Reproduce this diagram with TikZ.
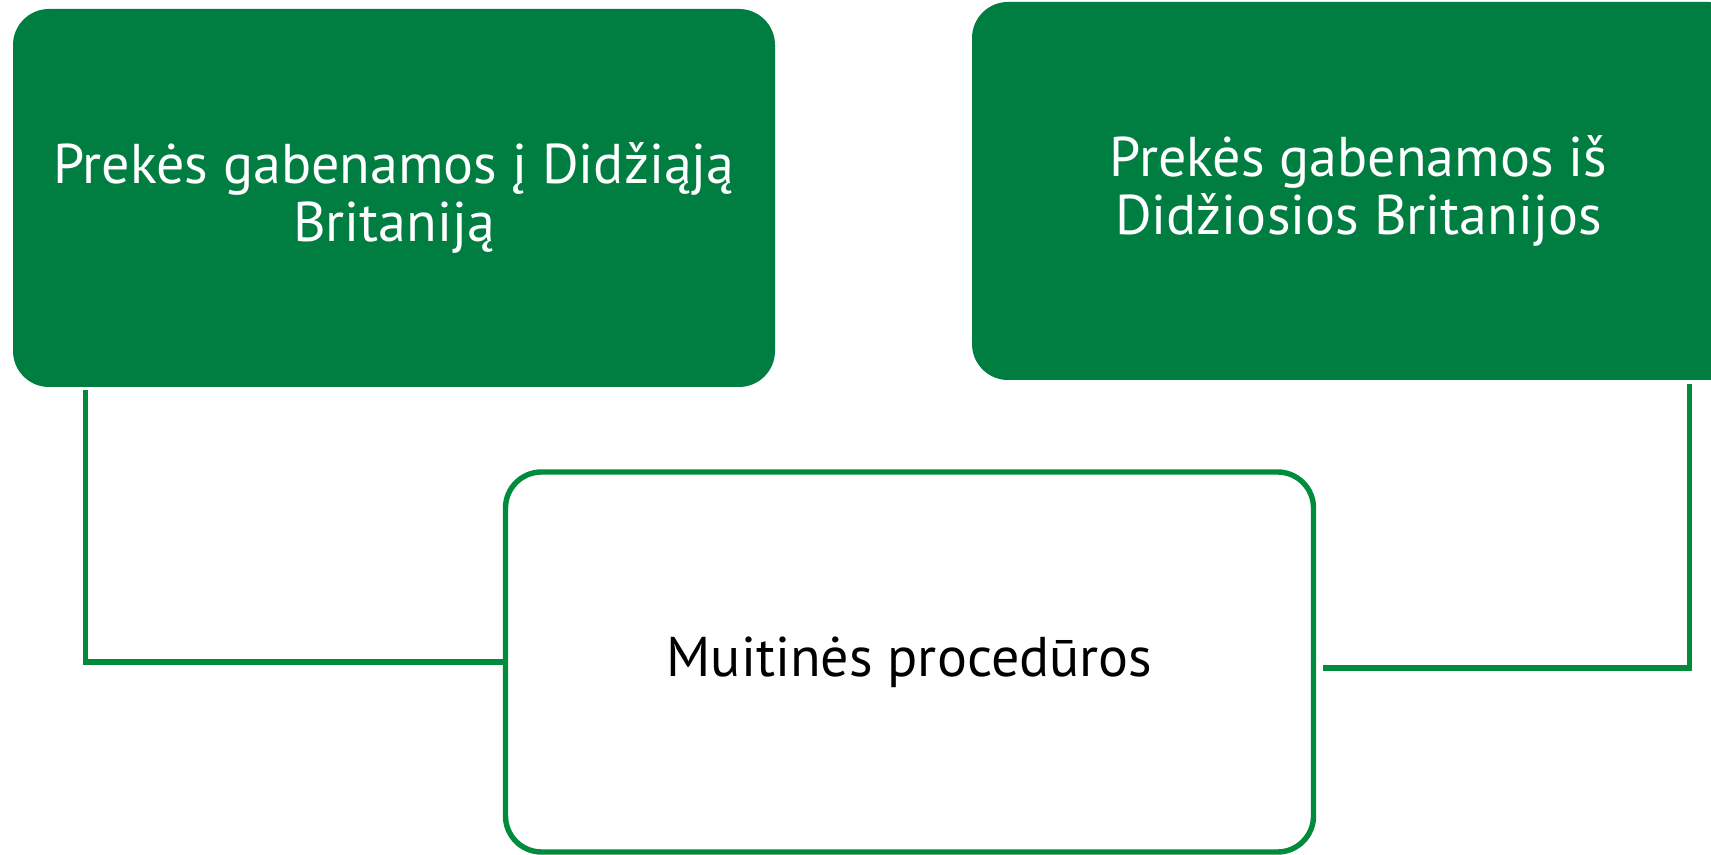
\documentclass[tikz,border=0pt]{standalone}
\usepackage{fontspec}
\setmainfont{PT Sans}
\usepackage{tikz}
\usetikzlibrary{calc,positioning}
\definecolor{boxgreen}{RGB}{0,126,66}
\definecolor{linegreen}{RGB}{0,140,60}
\tikzstyle{filledbox} = [rectangle, rounded corners=18pt, fill=boxgreen, text=white, align=center, minimum width=381pt, minimum height=189pt, font=\fontsize{28}{29}\selectfont]
\tikzstyle{openbox}   = [rectangle, rounded corners=18pt, draw=linegreen, line width=2.7pt, fill=white, text=black, align=center, minimum width=404pt, minimum height=190pt, font=\fontsize{28}{29}\selectfont]
\tikzstyle{link}      = [draw=linegreen, line width=2.7pt]

\begin{document}
\begin{tikzpicture}[x=1pt,y=1pt]
        \useasboundingbox (0,0) rectangle (855.5,427.5);
        \node[filledbox] (into) at (197,328.5) {Prekės gabenamos į Didžiąją\\Britaniją};
        \node[filledbox, minimum width=386.5pt] (outof) at (679.25,332) {Prekės gabenamos iš\\Didžiosios Britanijos};
        \node[openbox] (customs) at (454.75,96.5) {Muitinės procedūros};

        \draw[link] ([xshift=36.5pt,yshift=-1.5pt]into.south west) |- (customs.west);
        \draw[link] ([xshift=-28pt,yshift=-2pt]outof.south east) |- ([xshift=3.5pt,yshift=-3pt]customs.east);
    \end{tikzpicture}
\end{document}
